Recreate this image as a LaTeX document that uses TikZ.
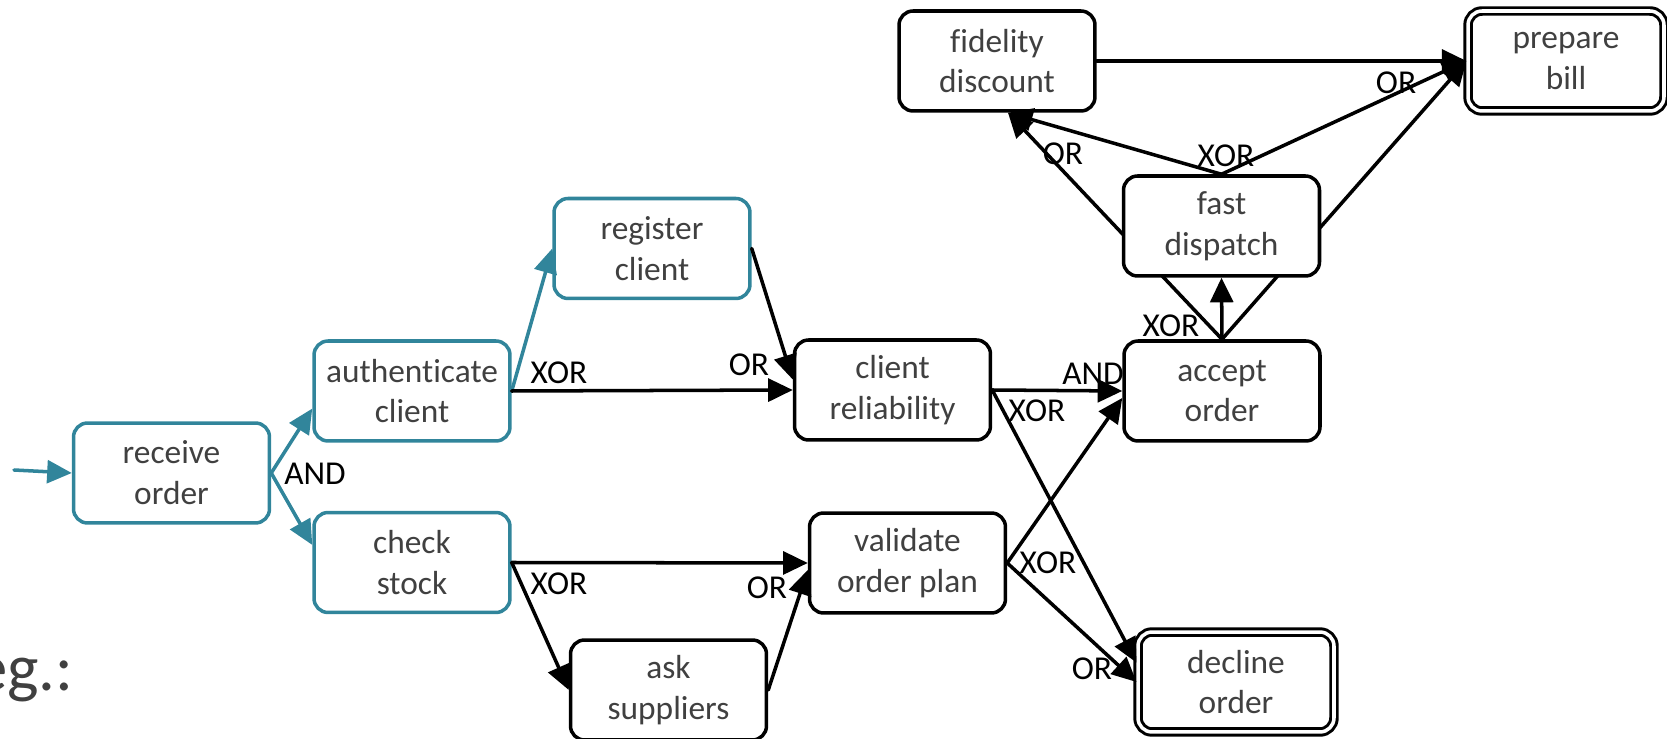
\documentclass[tikz,border=0pt]{standalone}
\usepackage{fontspec}
\setmainfont{Carlito}[Ligatures=NoCommon]
\usetikzlibrary{arrows.meta}
\usetikzlibrary{backgrounds}

\definecolor{procteal}{RGB}{49,133,155}
\definecolor{txtgray}{RGB}{64,64,64}

\tikzset{
	task/.style={draw,line width=2pt,rounded corners=8pt,fill=white,minimum width=3.92cm,minimum height=2cm,inner sep=0pt,align=center,text=txtgray,font=\fontsize{19}{23.2}\selectfont},
	first/.style={task,draw=procteal},
	final/.style={task,double,line width=1.7pt,double distance=2pt},
	lbl/.style={inner sep=0pt,font=\fontsize{19}{23}\selectfont},
	flow/.style={->,line width=2pt},
	tflow/.style={flow,draw=procteal}
}

\begin{document}
\begin{tikzpicture}[line cap=round,>={Triangle[length=14pt,width=13pt]},x=0.02cm,y=-0.02cm]
				\useasboundingbox (0,0) rectangle (1667,739);
				
				% tasks
				\node[first] (rcv) at (171.5,473) {receive\\order};
				\node[first] (auth) at (412,391) {authenticate\\client};
				\node[first] (chk) at (412,562.5) {check\\stock};
				\node[first] (reg) at (652,248.5) {register\\client};
				
				\node[task] (rel) at (892.5,390) {client\\reliability};
				\node[task] (val) at (907.5,563) {validate\\order plan};
				\node[task] (ask) at (668.5,690) {ask\\suppliers};
				\node[task] (acc) at (1222,391) {accept\\order};
				\node[task] (fast) at (1221.5,226) {fast\\dispatch};
				\node[task] (fid) at (997,61) {fidelity\\discount};
				
				\node[final] (bill) at (1566,61) {prepare\\bill};
				\node[final] (dec) at (1236,682) {decline\\order};
				
				\node[anchor=base east,inner sep=0pt,text=txtgray,font=\fontsize{38}{40}\selectfont] (eg) at (74,690) {eg.:};
				
				% flows
				\coordinate (start) at (14,470);
				\draw[tflow] (start) -- (rcv.west);
				\draw[tflow] (rcv.east) -- (auth.190);
				\draw[tflow] (rcv.east) -- (chk.170);
				\draw[tflow] (auth.east) -- (reg.west);
				
				\draw[flow] (auth.east) -- (rel.west);
				\draw[flow] (reg.east) -- (rel.174);
				\draw[flow] (chk.east) -- (val.west);
				\draw[flow] (chk.east) -- (ask.west);
				\draw[flow] (ask.east) -- (val.184);
				
				\draw[flow] (rel.east) -- (acc.west);
				\draw[flow] (rel.east) -- (dec.169);
				\draw[flow] (val.east) -- (acc.184);
				\draw[flow] (val.east) -- (dec.west);
				
				\draw[flow] (acc.north) -- (fast.south);
				\draw[flow] (fast.north) -- (fid.-78);
				\draw[flow] (fast.north) -- (bill.west);
				\draw[flow] (fid.east) -- (bill.west);
				\begin{pgfonlayer}{background}
					\draw[flow] (acc.north) -- (fid.-78);
					\draw[flow] (acc.north) -- (bill.west);
				\end{pgfonlayer}
				
				% gateways
				\node[lbl] (andRcv) at (315,474) {AND};
				\node[lbl] (xorAuth) at (559,373) {XOR};
				\node[lbl] (orRel) at (749,365) {OR};
				\node[lbl] (xorChk) at (559,584) {XOR};
				\node[lbl] (orVal) at (767,588) {OR};
				\node[lbl] (andAcc) at (1093,374) {AND};
				\node[lbl] (xorRel) at (1037,411) {XOR};
				\node[lbl] (xorVal) at (1048,563) {XOR};
				\node[lbl] (orDec) at (1092,669) {OR};
				\node[lbl] (xorAcc) at (1171,326) {XOR};
				\node[lbl] (xorFast) at (1226,156) {XOR};
				\node[lbl] (orFid) at (1063,154) {OR};
				\node[lbl] (orBill) at (1396,83) {OR};
\end{tikzpicture}
\end{document}
